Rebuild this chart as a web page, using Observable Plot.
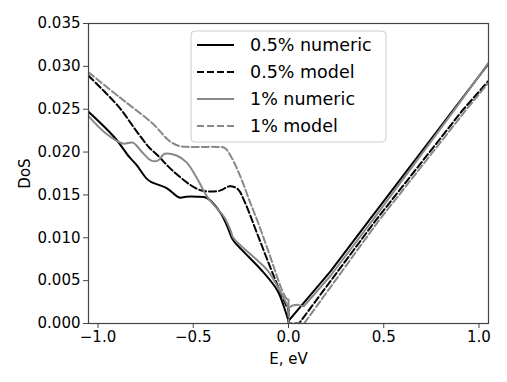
<!DOCTYPE html>
<html><head><meta charset="utf-8">
<script src="https://cdn.jsdelivr.net/npm/d3@7"></script>
<script src="https://cdn.jsdelivr.net/npm/@observablehq/plot@0.6"></script>
<style>body{margin:0;background:#fff;} #chart{width:507px;height:382px;}</style>
</head><body><div id="chart"></div>
<script>
// 0.5% numeric (black solid)
const E_num05 = [-1.05, -0.913, -0.835, -0.798, -0.745, -0.72, -0.64, -0.573, -0.538, -0.48, -0.433, -0.407, -0.354, -0.319, -0.293, -0.232, -0.145, -0.057, -0.01, 0.0, 0.2215, 0.422, 1.05];
const D_num05 = [0.0247, 0.0217, 0.0194, 0.0185, 0.0169, 0.0165, 0.0158, 0.0147, 0.0148, 0.0148, 0.0147, 0.0143, 0.0128, 0.0112, 0.0098, 0.0083, 0.0063, 0.0038, 0.0010, 0.0003, 0.0061, 0.0120, 0.0303];
// 0.5% model (black dashed)
const E_mod05 = [-1.05, -0.892, -0.80, -0.73, -0.686, -0.607, -0.48, -0.42, -0.36, -0.31, -0.267, -0.232, -0.163, -0.075, -0.014, 0.0, 0.0, 0.055, 0.457, 0.911, 1.05];
const D_mod05 = [0.0289, 0.0253, 0.0225, 0.0205, 0.0196, 0.0178, 0.0157, 0.0154, 0.0155, 0.0160, 0.0157, 0.0143, 0.0104, 0.0054, 0.0022, 0.0016, 0.0, 0.0, 0.0120, 0.0248, 0.0283];
// 1% numeric (gray solid)
const E_num1 = [-1.05, -0.96, -0.87, -0.817, -0.773, -0.72, -0.686, -0.65, -0.588, -0.535, -0.482, -0.424, -0.337, -0.303, -0.29, -0.18, -0.11, -0.014, 0.0, 0.02, 0.045, 0.08, 0.2215, 0.44, 0.867, 1.05];
const D_num1 = [0.0242, 0.0222, 0.0210, 0.0211, 0.0201, 0.0190, 0.0190, 0.0198, 0.0196, 0.0188, 0.0170, 0.0147, 0.0124, 0.0108, 0.0100, 0.0077, 0.0062, 0.0025, 0.0018, 0.0021, 0.0022, 0.0020, 0.0056, 0.0120, 0.0248, 0.0304];
// 1% model (gray dashed)
const E_mod1 = [-1.05, -0.887, -0.712, -0.625, -0.573, -0.52, -0.45, -0.38, -0.336, -0.30, -0.25, -0.206, -0.162, -0.11, -0.014, 0.0, 0.0, 0.082, 0.474, 0.928, 1.05];
const D_mod1 = [0.0293, 0.0264, 0.0233, 0.0213, 0.0207, 0.0206, 0.0206, 0.0206, 0.0205, 0.0194, 0.0170, 0.0144, 0.0119, 0.0087, 0.0030, 0.0028, 0.0, 0.0, 0.0120, 0.0248, 0.0281];

const seriesNames = ["0.5% numeric", "0.5% model", "1% numeric", "1% model"];
const xTicks = [-1.0, -0.5, 0.0, 0.5, 1.0];
const yTicks = [0, 0.005, 0.010, 0.015, 0.020, 0.025, 0.030, 0.035];

const series = [
  {name: seriesNames[0], E: E_num05, D: D_num05, stroke: "#000", dash: null},
  {name: seriesNames[1], E: E_mod05, D: D_mod05, stroke: "#000", dash: "7,3"},
  {name: seriesNames[2], E: E_num1, D: D_num1, stroke: "#888", dash: null},
  {name: seriesNames[3], E: E_mod1, D: D_mod1, stroke: "#888", dash: "7,3"}
];
// split each series at its first E = 0 point: smooth left branch, straight right branch
const lineMarks = series.flatMap(s => {
  const pts = s.E.map((e, i) => ({series: s.name, E: e, D: s.D[i]}));
  const k = s.E.indexOf(0);
  const common = {x: "E", y: "D", stroke: s.stroke, strokeWidth: 2, strokeDasharray: s.dash, clip: true};
  return [
    Plot.line(pts.slice(0, k + 1), {...common, curve: "catmull-rom"}),
    Plot.line(pts.slice(k), {...common, curve: "linear"})
  ];
});

const plot = Plot.plot({
  width: 507, height: 382,
  marginLeft: 88, marginRight: 19, marginTop: 23, marginBottom: 59,
  style: {fontFamily: "'DejaVu Sans', sans-serif", fontSize: "15px", color: "#000", background: "#fff", overflow: "visible"},
  x: {domain: [-1.05, 1.05]},
  y: {domain: [0, 0.035]},
  marks: [
    ...lineMarks,
    Plot.frame({stroke: "#444", strokeWidth: 1.2}),
    Plot.axisX({ticks: xTicks, tickFormat: d3.format(".1f"), tickSize: 5, tickPadding: 3,
      label: "E, eV", labelAnchor: "center", labelArrow: "none", labelOffset: 40, stroke: "#444"}),
    Plot.axisY({ticks: yTicks, tickFormat: d3.format(".3f"), tickSize: 5, tickPadding: 3,
      label: "DoS", labelAnchor: "center", labelArrow: "none", labelOffset: 69, stroke: "#444"})
  ]
});
document.getElementById("chart").appendChild(plot);

// legend inside plot area (upper centre)
const svg = d3.select(plot);
const lg = svg.append("g").attr("font-family", "'DejaVu Sans', sans-serif").attr("font-size", "17.5px").attr("text-anchor", "start");
lg.append("rect").attr("x", 191).attr("y", 31).attr("width", 195).attr("height", 111)
  .attr("rx", 4).attr("fill", "#fff").attr("fill-opacity", 0.8).attr("stroke", "#ccc").attr("stroke-width", 1);
series.forEach((s, i) => {
  const y = 45 + i * 27;
  lg.append("line").attr("x1", 197).attr("x2", 234).attr("y1", y).attr("y2", y)
    .attr("stroke", s.stroke).attr("stroke-width", 2).attr("stroke-dasharray", s.dash);
  lg.append("text").attr("x", 250).attr("y", y).attr("dy", "0.35em").attr("text-anchor", "start").attr("fill", "#000").text(s.name);
});
</script></body></html>
